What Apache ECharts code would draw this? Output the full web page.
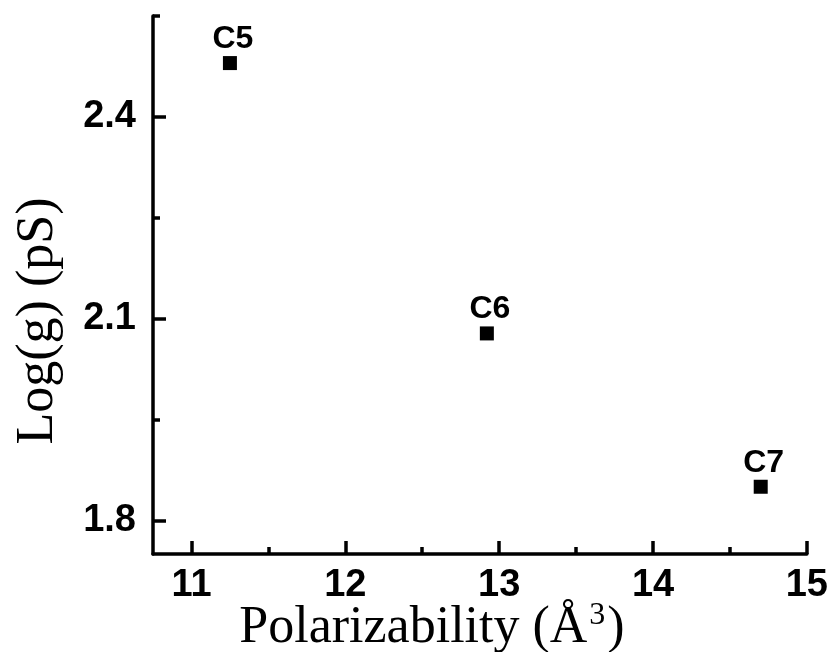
<!DOCTYPE html>
<html>
<head>
<meta charset="utf-8">
<script src="https://cdn.jsdelivr.net/npm/echarts@6/dist/echarts.min.js"></script>
<style>
  html, body { margin: 0; padding: 0; background: #fff; }
  #chart { width: 831px; height: 652px; }
</style>
</head>
<body>
<div id="chart"></div>
<script>
// Conductance vs. polarizability for the C5–C7 compounds
const compounds = ['C5', 'C6', 'C7'];
const polarizability = [11.25, 12.92, 14.70];
const logConductance = [2.48, 2.078, 1.85];

const xMajorTicks = [11, 12, 13, 14, 15];
const xMinorTicks = [11.5, 12.5, 13.5, 14.5];
const yMajorTicks = [1.8, 2.1, 2.4];
const yMinorTicks = [1.95, 2.25, 2.55];

const sansBold = { fontFamily: '"Liberation Sans", Arial, sans-serif', fontWeight: 'bold', color: '#000' };
const serif = '"Liberation Serif", "Times New Roman", serif';

const axisLine = { show: true, lineStyle: { color: '#000', width: 3.5 } };
const tickStyle = { color: '#000', width: 3.5 };

const chart = echarts.init(document.getElementById('chart'));
chart.setOption({
  backgroundColor: '#fff',
  animation: false,
  grid: { left: 153, right: 23, top: 16, bottom: 98, containLabel: false },
  xAxis: [
    {
      type: 'value', min: 10.75, max: 15, position: 'bottom',
      axisLine: axisLine,
      axisTick: { show: true, inside: true, length: 13, customValues: xMajorTicks, lineStyle: tickStyle },
      axisLabel: Object.assign({ customValues: xMajorTicks, fontSize: 38, margin: 13 }, sansBold),
      splitLine: { show: false }
    },
    {
      type: 'value', min: 10.75, max: 15, position: 'bottom',
      axisLine: { show: false },
      axisTick: { show: true, inside: true, length: 7, customValues: xMinorTicks, lineStyle: tickStyle },
      axisLabel: { show: false },
      splitLine: { show: false }
    }
  ],
  yAxis: [
    {
      type: 'value', min: 1.75, max: 2.55, position: 'left',
      axisLine: axisLine,
      axisTick: { show: true, inside: true, length: 13, customValues: yMajorTicks, lineStyle: tickStyle },
      axisLabel: Object.assign({ customValues: yMajorTicks, fontSize: 38, margin: 17, formatter: v => v.toFixed(1) }, sansBold),
      splitLine: { show: false }
    },
    {
      type: 'value', min: 1.75, max: 2.55, position: 'left',
      axisLine: { show: false },
      axisTick: { show: true, inside: true, length: 7, customValues: yMinorTicks, lineStyle: tickStyle },
      axisLabel: { show: false },
      splitLine: { show: false }
    }
  ],
  series: [{
    type: 'scatter',
    xAxisIndex: 0,
    yAxisIndex: 0,
    symbol: 'rect',
    symbolSize: 14,
    itemStyle: { color: '#000', opacity: 1 },
    data: polarizability.map((x, i) => ({ value: [x, logConductance[i]], name: compounds[i] })),
    label: Object.assign({
      show: true, position: 'top', distance: 1, offset: [3, 0], fontSize: 32,
      formatter: p => p.name
    }, sansBold)
  }],
  graphic: [
    {
      type: 'text',
      x: 432, y: 628,
      style: {
        align: 'center', verticalAlign: 'middle',
        text: '{t|Polarizability (Å}{s|3}{t|)}',
        rich: {
          t: { fontFamily: serif, fontSize: 52, fill: '#000', lineHeight: 56 },
          s: { fontFamily: serif, fontSize: 32, fill: '#000', lineHeight: 56, verticalAlign: 'top', padding: [0, 2, 22, 2] }
        }
      }
    },
    {
      type: 'text',
      x: 38, y: 321, rotation: Math.PI / 2,
      style: {
        text: 'Log(g) (pS)', align: 'center', verticalAlign: 'middle',
        fontFamily: serif, fontSize: 52, fill: '#000'
      }
    }
  ]
});
</script>
</body>
</html>
